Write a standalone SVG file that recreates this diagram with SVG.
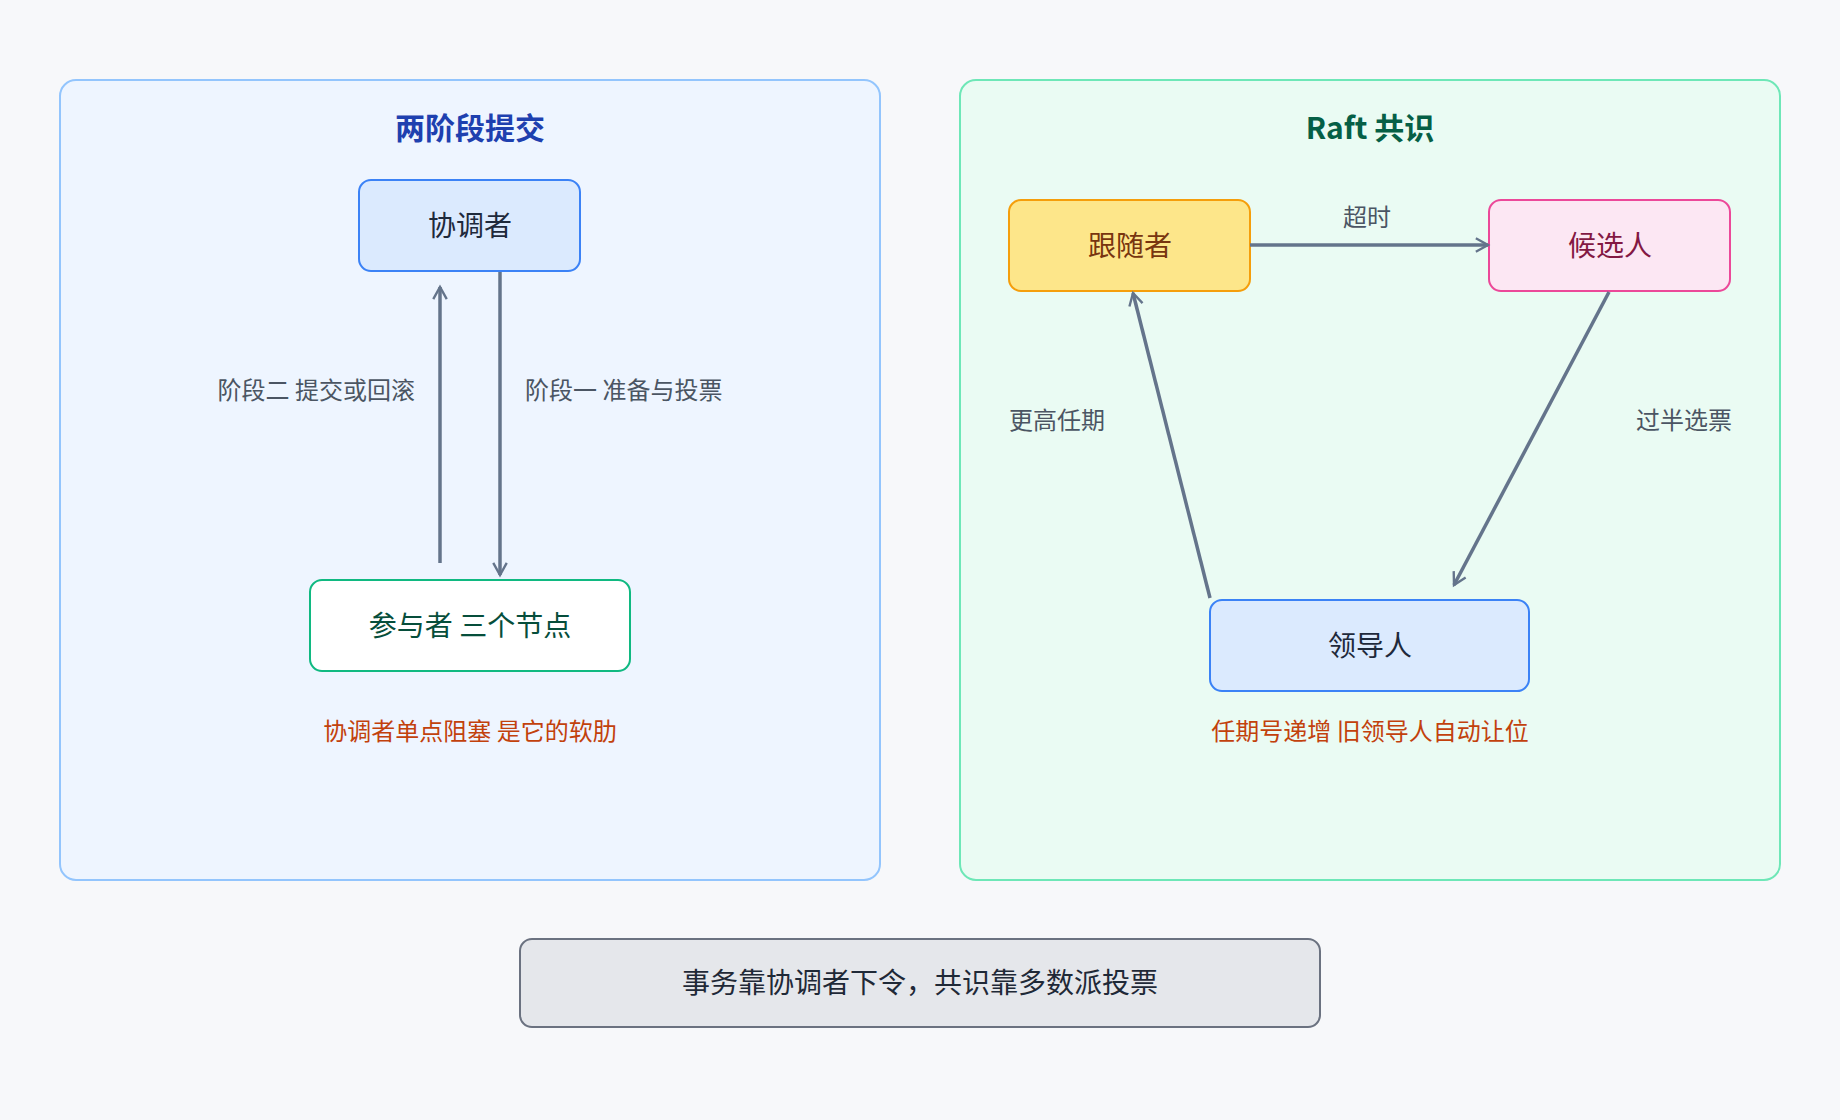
<svg xmlns="http://www.w3.org/2000/svg" width="1840" height="1120" viewBox="0 0 1840 1120">
<style>
text{font-family:"Noto Sans CJK SC","Noto Sans",sans-serif;text-anchor:middle}
.title{font-size:30px;font-weight:bold}
.node{font-size:28px}
.lbl{font-size:24px;fill:#4b5563}
.note{font-size:24px;fill:#c2410c}
.edge{stroke:#64748b;stroke-width:3.5;fill:none;marker-end:url(#arr)}
</style>
<defs>
<marker id="arr" viewBox="0 0 20 20" refX="18" refY="10" markerWidth="9" markerHeight="9" markerUnits="userSpaceOnUse" orient="auto" overflow="visible">
<path d="M0,0 L18,10 L0,20" fill="none" stroke="#64748b" stroke-width="3.5" transform="scale(1.5)" transform-origin="18 10"/>
</marker>
</defs>
<rect width="1840" height="1120" fill="#f7f8fa"/>
<g id="panel-2pc">
<rect x="60" y="80" width="820" height="800" rx="16" fill="#eef5ff" stroke="#93c5fd" stroke-width="2"/>
<text class="title" x="470" y="139" fill="#1e40af">两阶段提交</text>
</g>
<g id="panel-raft">
<rect x="960" y="80" width="820" height="800" rx="16" fill="#eafbf3" stroke="#6ee7b7" stroke-width="2"/>
<text class="title" x="1370" y="139" fill="#065f46">Raft 共识</text>
</g>
<g id="coordinator"><rect x="359" y="180" width="221" height="91" rx="12" fill="#dbeafe" stroke="#3b82f6" stroke-width="2"/><text class="node" x="470" y="236" fill="#1e293b">协调者</text></g>
<g id="participants"><rect x="310" y="580" width="320" height="91" rx="12" fill="#ffffff" stroke="#10b981" stroke-width="2"/><text class="node" x="470" y="636" fill="#064e3b">参与者 三个节点</text></g>
<g id="follower"><rect x="1009" y="200" width="241" height="91" rx="12" fill="#fde68a" stroke="#f59e0b" stroke-width="2"/><text class="node" x="1130" y="256" fill="#78350f">跟随者</text></g>
<g id="candidate"><rect x="1489" y="200" width="241" height="91" rx="12" fill="#fce7f3" stroke="#ec4899" stroke-width="2"/><text class="node" x="1610" y="256" fill="#831843">候选人</text></g>
<g id="leader"><rect x="1210" y="600" width="319" height="91" rx="12" fill="#dbeafe" stroke="#3b82f6" stroke-width="2"/><text class="node" x="1370" y="656" fill="#1e293b">领导人</text></g>
<g id="connectors">
<line class="edge" x1="440" y1="563" x2="440" y2="287"/>
<line class="edge" x1="500" y1="272" x2="500" y2="575"/>
<line class="edge" x1="1250" y1="245" x2="1488" y2="245"/>
<line class="edge" x1="1609" y1="292" x2="1454" y2="585"/>
<line class="edge" x1="1210" y1="598" x2="1133" y2="293"/>
<text class="lbl" x="415" y="399" style="text-anchor:end">阶段二 提交或回滚</text>
<text class="lbl" x="525" y="399" style="text-anchor:start">阶段一 准备与投票</text>
<text class="lbl" x="1367" y="226">超时</text>
<text class="lbl" x="1684" y="429">过半选票</text>
<text class="lbl" x="1057" y="429">更高任期</text>
</g>
<text class="note" x="470" y="740">协调者单点阻塞 是它的软肋</text>
<text class="note" x="1370" y="740">任期号递增 旧领导人自动让位</text>
<g id="summary"><rect x="520" y="939" width="800" height="88" rx="12" fill="#e5e7eb" stroke="#6b7280" stroke-width="2"/><text class="node" x="920" y="993" fill="#1f2937">事务靠协调者下令，共识靠多数派投票</text></g>
</svg>
